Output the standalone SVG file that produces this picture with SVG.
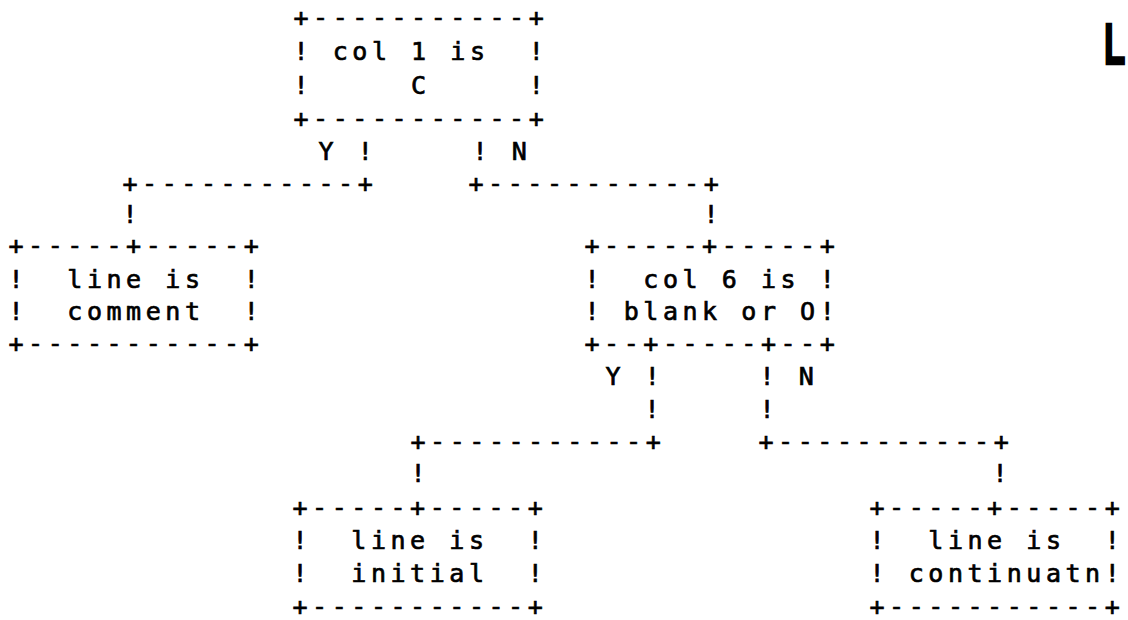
<svg xmlns="http://www.w3.org/2000/svg" width="1128" height="620" viewBox="0 0 1128 620" xml:space="preserve">
<style>
.t { font-family: "DejaVu Sans Mono", "Liberation Mono", monospace; font-size: 25px; letter-spacing: 4.55px; fill: #000; stroke: #000; stroke-width: 0.7px; white-space: pre; }
.big { font-family: "Liberation Sans", "DejaVu Sans", sans-serif; font-size: 58px; font-weight: bold; fill: #000; stroke: #000; stroke-width: 2.5px; }
</style>
<rect x="0" y="0" width="1128" height="620" fill="#fff"/>
<g id="node-col1">
<text class="t" x="293.5" y="26">+-----------+</text>
<text class="t" x="293.5" y="60">! col 1 is  !</text>
<text class="t" x="293.5" y="94">!     C     !</text>
<text class="t" x="293.5" y="127">+-----------+</text>
</g>
<g id="node-comment">
<text class="t" x="8.5" y="254">+-----+-----+</text>
<text class="t" x="8.5" y="288">!  line is  !</text>
<text class="t" x="8.5" y="320">!  comment  !</text>
<text class="t" x="8.5" y="352">+-----------+</text>
</g>
<g id="node-col6">
<text class="t" x="584.5" y="254">+-----+-----+</text>
<text class="t" x="584.5" y="288">!  col 6 is !</text>
<text class="t" x="584.5" y="320">! blank or O!</text>
<text class="t" x="584.5" y="352">+--+-----+--+</text>
</g>
<g id="node-initial">
<text class="t" x="292.5" y="516">+-----+-----+</text>
<text class="t" x="292.5" y="549">!  line is  !</text>
<text class="t" x="292.5" y="582">!  initial  !</text>
<text class="t" x="292.5" y="615">+-----------+</text>
</g>
<g id="node-continuatn">
<text class="t" x="869.5" y="516">+-----+-----+</text>
<text class="t" x="869.5" y="549">!  line is  !</text>
<text class="t" x="869.5" y="582">! continuatn!</text>
<text class="t" x="869.5" y="615">+-----------+</text>
</g>
<g id="connectors">
<text class="t" x="318.5" y="160">Y !</text>
<text class="t" x="472.5" y="160">! N</text>
<text class="t" x="122.5" y="192">+-----------+</text>
<text class="t" x="468.5" y="192">+-----------+</text>
<text class="t" x="122.5" y="223">!</text>
<text class="t" x="703.5" y="223">!</text>
<text class="t" x="605.5" y="385">Y !</text>
<text class="t" x="759.5" y="385">! N</text>
<text class="t" x="644.5" y="418">!</text>
<text class="t" x="759.5" y="418">!</text>
<text class="t" x="410.5" y="450">+-----------+</text>
<text class="t" x="758.5" y="450">+-----------+</text>
<text class="t" x="410.5" y="482">!</text>
<text class="t" x="992.5" y="482">!</text>
</g>
<text class="big" x="1104" y="64" transform="translate(1104 0) scale(0.6 1) translate(-1104 0)">L</text>
</svg>
